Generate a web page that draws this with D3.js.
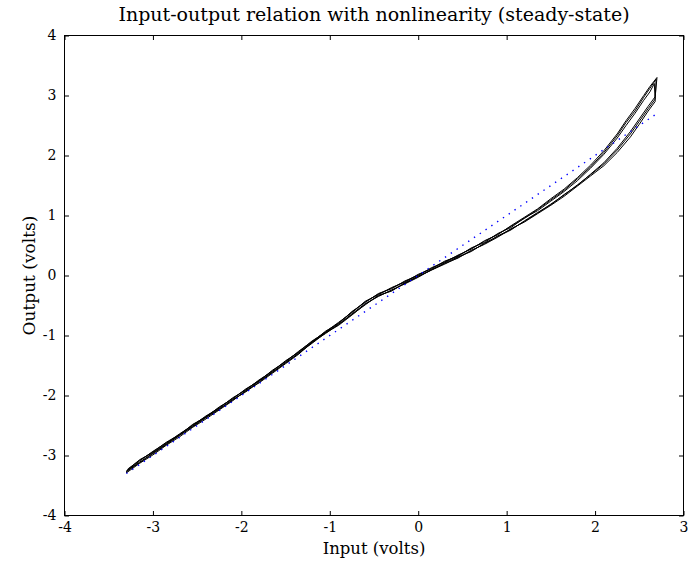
<!DOCTYPE html>
<html>
<head>
<meta charset="utf-8">
<script src="https://cdn.jsdelivr.net/npm/d3@7"></script>
<style>
  html, body { margin: 0; padding: 0; background: #fff; }
  svg { display: block; }
  text { font-family: "DejaVu Serif", serif; fill: #000; }
</style>
</head>
<body>
<svg id="chart" width="696" height="561"></svg>
<script>
// ---- data ----
const xTicks = [-4, -3, -2, -1, 0, 1, 2, 3];
const yTicks = [-4, -3, -2, -1, 0, 1, 2, 3, 4];
const xDomain = [-4, 3];
const yDomain = [-4, 4];

// linear reference (dotted blue), input = output
const refInput = [-3.30, 2.70];
const refOutput = [-3.30, 2.70];

// rising input branch (shared input samples)
const inputUp = [-3.30,-3.15,-3.00,-2.85,-2.70,-2.55,-2.40,-2.25,-2.10,-1.95,-1.80,-1.65,-1.50,-1.35,-1.20,-1.05,-0.90,-0.75,-0.60,-0.45,-0.30,-0.15,0.00,0.15,0.30,0.45,0.60,0.75,0.90,1.05,1.20,1.35,1.50,1.65,1.80,1.95,2.10,2.25,2.40,2.50,2.60,2.68];
const outputUpA = [-3.27,-3.12,-2.97,-2.82,-2.66,-2.52,-2.37,-2.23,-2.07,-1.94,-1.78,-1.61,-1.46,-1.29,-1.13,-0.96,-0.83,-0.66,-0.48,-0.34,-0.25,-0.13,-0.02,0.09,0.19,0.30,0.41,0.53,0.66,0.77,0.90,1.04,1.19,1.34,1.51,1.68,1.86,2.09,2.36,2.57,2.78,2.94];
const outputUpB = [-3.29,-3.13,-2.99,-2.83,-2.69,-2.53,-2.39,-2.24,-2.09,-1.92,-1.79,-1.63,-1.47,-1.31,-1.11,-0.97,-0.81,-0.64,-0.47,-0.35,-0.24,-0.14,-0.03,0.10,0.20,0.29,0.42,0.52,0.64,0.78,0.89,1.03,1.17,1.32,1.49,1.66,1.83,2.05,2.31,2.52,2.74,2.90];
const outputUpC = [-3.26,-3.11,-2.96,-2.81,-2.67,-2.51,-2.36,-2.22,-2.08,-1.93,-1.76,-1.62,-1.45,-1.30,-1.12,-0.95,-0.82,-0.65,-0.49,-0.33,-0.26,-0.12,-0.01,0.09,0.21,0.31,0.40,0.54,0.65,0.76,0.91,1.05,1.18,1.35,1.50,1.69,1.88,2.12,2.40,2.61,2.82,2.98];

// peak of each cycle
const peakInput = [2.69, 2.67, 2.70];
const peakOutput = [3.27, 3.20, 3.30];

// falling input branch
const inputDown = [2.62,2.55,2.45,2.35,2.25,2.10,1.95,1.80,1.65,1.50,1.35,1.20,1.05,0.90,0.75,0.60,0.45,0.30,0.15,0.00,-0.15,-0.30,-0.45,-0.60,-0.75,-0.90,-1.05,-1.20,-1.35,-1.50,-1.65,-1.80,-1.95,-2.10,-2.25,-2.40,-2.55,-2.70,-2.85,-3.00,-3.15,-3.28];
const outputDownA = [3.12,2.97,2.74,2.55,2.33,2.05,1.81,1.61,1.42,1.26,1.10,0.95,0.82,0.69,0.57,0.45,0.33,0.23,0.12,0.01,-0.10,-0.21,-0.31,-0.44,-0.61,-0.79,-0.95,-1.09,-1.27,-1.43,-1.59,-1.75,-1.90,-2.05,-2.20,-2.35,-2.49,-2.65,-2.78,-2.94,-3.08,-3.22];
const outputDownB = [3.06,2.92,2.70,2.50,2.29,2.02,1.79,1.58,1.40,1.24,1.08,0.96,0.80,0.70,0.55,0.46,0.32,0.24,0.11,0.02,-0.11,-0.20,-0.32,-0.43,-0.62,-0.78,-0.94,-1.10,-1.26,-1.44,-1.58,-1.76,-1.89,-2.06,-2.19,-2.36,-2.48,-2.66,-2.79,-2.93,-3.09,-3.24];
const outputDownC = [3.15,3.00,2.78,2.58,2.36,2.08,1.84,1.63,1.44,1.28,1.11,0.97,0.83,0.68,0.58,0.44,0.34,0.22,0.13,0.00,-0.09,-0.22,-0.30,-0.45,-0.60,-0.80,-0.93,-1.11,-1.28,-1.42,-1.60,-1.74,-1.91,-2.04,-2.21,-2.34,-2.50,-2.64,-2.80,-2.95,-3.07,-3.23];

const titleText = "Input-output relation with nonlinearity (steady-state)";
const xLabelText = "Input (volts)";
const yLabelText = "Output (volts)";

// ---- layout ----
const W = 696, H = 561;
const mLeft = 64.5, mRight = 683.5, mTop = 35.5, mBottom = 515.5;

const svg = d3.select("#chart");
const x = d3.scaleLinear().domain(xDomain).range([mLeft, mRight]);
const y = d3.scaleLinear().domain(yDomain).range([mBottom, mTop]);

// build cycles
const upSets = [outputUpA, outputUpB, outputUpC];
const downSets = [outputDownA, outputDownB, outputDownC];
const cycles = upSets.map((up, i) => {
  const pts = inputUp.map((v, j) => [v, up[j]]);
  pts.push([peakInput[i], peakOutput[i]]);
  inputDown.forEach((v, j) => pts.push([v, downSets[i][j]]));
  return pts;
});

const line = d3.line().x(d => x(d[0])).y(d => y(d[1]));

svg.append("clipPath").attr("id", "clip").append("rect")
  .attr("x", mLeft).attr("y", mTop).attr("width", mRight - mLeft).attr("height", mBottom - mTop);

const g = svg.append("g").attr("clip-path", "url(#clip)");
cycles.forEach((pts, i) => {
  const p = pts.slice();
  if (i < cycles.length - 1) p.push(cycles[i + 1][0]);
  g.append("path").attr("d", line(p))
    .attr("fill", "none").attr("stroke", "#000").attr("stroke-width", 1)
    .attr("stroke-linejoin", "round");
});

g.append("path")
  .attr("d", line(refInput.map((v, i) => [v, refOutput[i]])))
  .attr("fill", "none").attr("stroke", "#0000ff").attr("stroke-width", 1.4)
  .attr("stroke-dasharray", "1.4,5.6");

// frame
svg.append("rect").attr("x", mLeft).attr("y", mTop)
  .attr("width", mRight - mLeft).attr("height", mBottom - mTop)
  .attr("fill", "none").attr("stroke", "#000").attr("stroke-width", 1);

// axes (ticks inward on all sides)
const tl = 4.5;
const fmt = d => String(d);
const axB = d3.axisBottom(x).tickValues(xTicks).tickSizeInner(-tl).tickSizeOuter(0).tickPadding(7).tickFormat(fmt);
const axT = d3.axisTop(x).tickValues(xTicks).tickSizeInner(-tl).tickSizeOuter(0).tickFormat("");
const axL = d3.axisLeft(y).tickValues(yTicks).tickSizeInner(-tl).tickSizeOuter(0).tickPadding(tl + 3.5).tickFormat(fmt);
const axR = d3.axisRight(y).tickValues(yTicks).tickSizeInner(-tl).tickSizeOuter(0).tickFormat("");

function style(sel) {
  sel.select(".domain").remove();
  sel.selectAll("line").attr("stroke", "#000").attr("stroke-width", 1);
  sel.selectAll("text").attr("font-family", "DejaVu Serif").attr("font-size", "14px").attr("fill", "#000");
}
svg.append("g").attr("transform", `translate(0,${mBottom})`).call(axB).call(style);
svg.append("g").attr("transform", `translate(0,${mTop})`).call(axT).call(style);
svg.append("g").attr("transform", `translate(${mLeft},0)`).call(axL).call(style);
svg.append("g").attr("transform", `translate(${mRight},0)`).call(axR).call(style);

// labels
svg.append("text").attr("x", (mLeft + mRight) / 2).attr("y", 21)
  .attr("text-anchor", "middle").attr("font-size", "19px").text(titleText);
svg.append("text").attr("x", (mLeft + mRight) / 2).attr("y", 554)
  .attr("text-anchor", "middle").attr("font-size", "16.5px").text(xLabelText);
svg.append("text").attr("transform", `translate(35,${(mTop + mBottom) / 2}) rotate(-90)`)
  .attr("text-anchor", "middle").attr("font-size", "17px").text(yLabelText);
</script>
</body>
</html>
